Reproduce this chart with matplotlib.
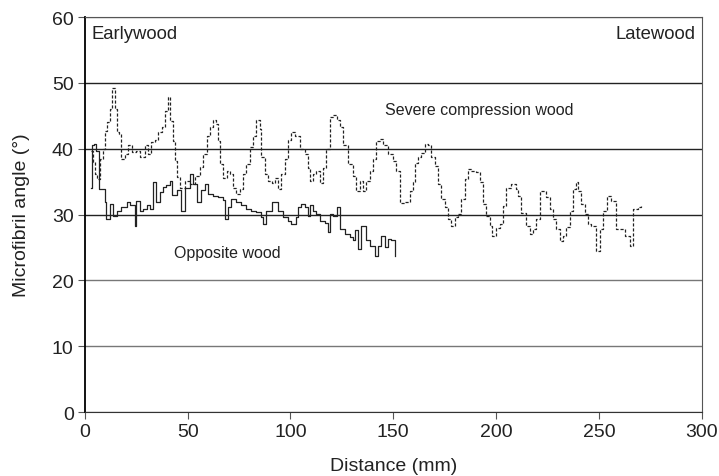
import matplotlib
matplotlib.use("Agg")
import matplotlib.pyplot as plt
import numpy as np

plt.rcParams['font.family'] = ['Liberation Sans', 'DejaVu Sans']

# severe compression wood (dashed trace), distance in mm / angle in degrees
scw_x = [3.0, 4.1, 4.9, 5.7, 7.3, 8.8, 9.7, 11.0, 12.2, 13.0,
         14.6, 15.4, 16.5, 17.8, 19.4, 21.0, 22.7, 25.1, 26.7, 29.2,
         30.8, 32.4, 34.0, 35.6, 37.3, 38.9, 40.2, 41.3, 42.9, 43.8,
         44.6, 46.2, 48.6, 51.0, 53.5, 55.9, 57.5, 59.2, 60.8, 62.4,
         64.0, 64.8, 65.6, 67.2, 68.9, 70.5, 72.1, 73.7, 75.3, 76.9,
         78.5, 80.2, 81.8, 83.4, 85.0, 85.9, 87.5, 89.1, 90.8, 92.4,
         94.0, 95.6, 97.2, 98.8, 100.4, 102.0, 104.5, 107.0, 108.6, 109.4,
         111.0, 112.6, 114.3, 115.9, 117.5, 119.1, 120.7, 122.4, 124.0, 125.6,
         128.0, 130.4, 132.0, 133.7, 135.3, 136.9, 138.5, 140.2, 141.8, 143.4,
         145.0, 147.5, 149.9, 151.5, 153.1, 155.6, 158.0, 159.6, 160.4, 162.0,
         163.7, 165.3, 166.9, 168.5, 170.1, 171.8, 173.4, 175.0, 176.6, 178.2,
         179.8, 181.5, 183.1, 184.7, 186.3, 187.9, 190.4, 192.0, 193.6, 195.2,
         196.9, 198.2, 200.1, 201.7, 203.3, 205.0, 207.4, 209.9, 210.7, 212.3,
         214.7, 216.3, 218.0, 219.6, 221.2, 222.8, 224.4, 226.0, 227.7, 229.3,
         230.9, 232.5, 234.1, 235.7, 237.4, 238.7, 239.8, 241.4, 243.1, 244.7,
         246.3, 248.7, 250.3, 252.0, 254.1, 256.0, 257.7, 258.5, 260.9, 262.5,
         265.0, 266.6, 269.0, 270.6]
scw_y = [39.7, 38.0, 36.2, 35.4, 38.4, 40.0, 42.7, 44.0, 46.0, 49.3,
         46.0, 42.5, 42.2, 38.4, 39.2, 40.5, 39.5, 39.7, 38.8, 40.5,
         39.2, 41.0, 41.3, 42.5, 43.3, 45.8, 47.8, 44.2, 41.2, 38.2,
         35.7, 34.1, 35.1, 34.6, 35.9, 37.2, 39.2, 42.0, 43.3, 44.3,
         43.8, 41.2, 37.7, 35.6, 36.6, 36.1, 34.1, 33.1, 33.9, 36.1,
         37.7, 40.2, 42.0, 44.3, 43.0, 38.7, 36.1, 35.1, 34.8, 35.6,
         33.9, 36.1, 38.4, 41.3, 42.5, 42.0, 40.0, 39.2, 37.1, 35.1,
         36.1, 36.6, 34.8, 37.1, 40.0, 44.8, 45.1, 44.3, 43.3, 40.5,
         37.7, 35.9, 33.6, 35.1, 33.6, 35.1, 36.6, 38.4, 41.2, 41.5,
         40.5, 39.2, 38.2, 36.6, 31.8, 31.9, 33.6, 34.9, 37.9, 38.7,
         39.4, 40.7, 40.5, 38.7, 37.4, 34.6, 32.4, 31.1, 29.3, 28.3,
         29.6, 30.1, 32.4, 35.4, 36.9, 36.7, 36.4, 34.9, 31.6, 29.8,
         28.3, 26.8, 28.0, 28.6, 31.3, 34.1, 34.6, 33.9, 32.9, 30.3,
         28.3, 27.1, 27.8, 29.3, 33.6, 33.6, 32.6, 30.8, 29.3, 27.8,
         26.0, 26.8, 28.1, 30.6, 33.9, 35.0, 33.6, 31.6, 30.1, 28.6,
         28.3, 24.5, 27.8, 30.6, 32.9, 32.1, 32.1, 27.8, 27.8, 26.8,
         25.3, 30.8, 31.1, 31.3]

# opposite wood (solid trace)
ow_x = [2.9, 3.3, 4.5, 5.5, 6.8, 9.7, 10.5, 12.2, 13.8, 15.4,
        17.8, 20.3, 21.9, 24.3, 25.1, 26.7, 28.4, 30.0, 31.6, 33.2,
        34.8, 36.5, 38.0, 39.7, 41.3, 42.5, 44.6, 47.0, 48.6, 51.0,
        52.7, 54.3, 56.7, 58.3, 60.0, 62.4, 64.8, 67.2, 68.0, 69.7,
        71.3, 73.7, 76.1, 78.5, 80.9, 83.3, 85.9, 86.7, 88.3, 90.8,
        93.9, 96.4, 98.8, 100.4, 102.9, 103.7, 105.3, 106.9, 108.6, 109.4,
        111.0, 112.6, 114.3, 116.7, 118.3, 119.1, 120.7, 122.4, 124.0, 126.4,
        128.8, 130.4, 131.2, 132.9, 134.5, 136.9, 138.5, 141.0, 142.6, 144.2,
        145.8, 147.5, 149.0, 150.7]
ow_y = [34.1, 40.5, 40.8, 39.7, 33.9, 31.9, 29.3, 31.6, 29.8, 30.6,
        31.1, 31.9, 31.4, 28.3, 32.1, 30.6, 30.8, 31.4, 30.8, 34.9,
        31.9, 33.4, 34.2, 34.5, 35.1, 33.0, 33.7, 30.6, 34.0, 36.2,
        34.7, 31.9, 33.7, 34.6, 33.2, 32.9, 32.7, 32.2, 29.3, 31.1,
        32.4, 31.9, 31.4, 30.8, 30.6, 30.4, 29.6, 28.5, 30.6, 31.9,
        30.6, 29.6, 29.1, 28.5, 29.6, 31.1, 31.6, 31.1, 29.8, 31.4,
        30.6, 30.1, 29.1, 28.8, 27.3, 30.1, 29.8, 31.1, 27.8, 27.1,
        26.6, 26.1, 27.6, 24.8, 28.3, 26.1, 25.3, 23.7, 25.3, 26.8,
        25.1, 26.3, 26.1, 23.7]

fig = plt.figure(figsize=(7.19, 4.77), dpi=100)
ax = fig.add_axes([0.118, 0.134, 0.858, 0.828])

ax.plot(scw_x, scw_y, drawstyle='steps-post', color='#222222', lw=0.9,
        linestyle=(0, (2.5, 1.5)))
ax.plot(ow_x, ow_y, drawstyle='steps-post', color='#222222', lw=0.9)

ax.set_xlim(0, 300)
ax.set_ylim(0, 60)
ax.set_xticks(range(0, 301, 50))
ax.set_yticks(range(0, 61, 10))

ax.grid(axis='y', lw=1.0)
for tick, gl in zip(ax.get_yticks(), ax.get_ygridlines()):
    gl.set_color('#222222' if tick in (30, 40, 50) else '#777777')
ax.set_axisbelow(True)

for side in ['top', 'right']:
    ax.spines[side].set_color('#555555')
ax.spines['left'].set_color('black')
ax.spines['left'].set_linewidth(1.3)
ax.spines['bottom'].set_color('#333333')
ax.tick_params(labelsize=14, length=5, color='#555555', pad=3, labelcolor='#222222')

ax.set_xlabel('Distance (mm)', fontsize=14, labelpad=12, color='#222222')
ax.set_ylabel('Microfibril angle (°)', fontsize=14, labelpad=16, color='#222222')

ax.text(3, 57.5, 'Earlywood', fontsize=13.3, va='center', ha='left', color='#222222')
ax.text(297, 57.5, 'Latewood', fontsize=13.3, va='center', ha='right', color='#222222')
ax.text(192, 45.9, 'Severe compression wood', fontsize=11.5, va='center',
        ha='center', color='#222222')
ax.text(69.5, 24.3, 'Opposite wood', fontsize=11.5, va='center', ha='center',
        color='#222222')

fig.savefig('out.png', dpi=100)
